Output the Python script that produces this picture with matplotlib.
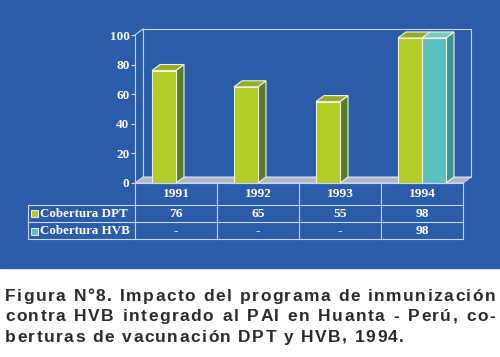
import matplotlib
matplotlib.use('Agg')
import matplotlib.pyplot as plt
from matplotlib.patches import Polygon, Rectangle
from matplotlib.lines import Line2D
from matplotlib import transforms
from matplotlib.font_manager import FontProperties, findfont
from matplotlib.ft2font import FT2Font

# data
years = ['1991', '1992', '1993', '1994']
dpt = [76, 65, 55, 98]
hvb = [None, None, None, 98]
row_labels = ['Cobertura DPT', 'Cobertura HVB']
caption = ['Figura N\u00b08. Impacto del programa de inmunizaci\u00f3n',
           'contra HVB integrado al PAI en Huanta - Per\u00fa, co-',
           'berturas de vacunaci\u00f3n DPT y HVB, 1994.']

BLUE = '#2b5ca9'
LINE = '#c8d8f0'
DPT_C = ('#b4cc28', '#5c7c2c', '#98ac2c')   # front, side, top
HVB_C = ('#5cbfbf', '#3c9494', '#7cc8c4')
SERIF = 'Liberation Serif'

W, H = 500, 357
fig = plt.figure(figsize=(5, 3.57), dpi=100)
fig.patch.set_facecolor('white')

def fx(px):
    return px / W

def fy(py):
    return 1 - py / H

fig.add_artist(Rectangle((0, fy(268)), 1, 1 - fy(268), transform=fig.transFigure,
                         color=BLUE, zorder=0))

ax = fig.add_axes([fx(135), fy(183), fx(463) - fx(135), fy(35) - fy(183)])
ax.set_xlim(0, 4)
ax.set_ylim(0, 100)
ax.patch.set_visible(False)
for s in ['top', 'right', 'bottom']:
    ax.spines[s].set_visible(False)
ax.spines['left'].set_color(LINE)
ax.spines['left'].set_linewidth(0.8)
ax.set_xticks([])
ax.set_yticks(range(0, 101, 20))
ax.tick_params(axis='y', length=3, width=0.8, color=LINE, pad=1,
               labelcolor='white', labelsize=9.5)
for lab in ax.get_yticklabels():
    lab.set_fontfamily(SERIF)
    lab.set_fontweight('bold')

# 3d depth in data units (8 px right, 6 px up)
dx = 8 / (328 / 4)
dy = 6 / (148 / 100)

# floor and walls
ax.add_patch(Polygon([(0, 0), (4, 0), (4 + dx, dy), (dx, dy)], closed=True,
                     fc='#b4b6c6', ec=LINE, lw=0.8, clip_on=False, zorder=1))
ax.add_patch(Rectangle((dx, dy), 4, 100, fill=False, ec=LINE, lw=0.8,
                       clip_on=False, zorder=1))
ax.add_line(Line2D([0, dx], [100, 100 + dy], color=LINE, lw=0.8, clip_on=False))

bw = 24 / 82
off = 17 / 82

def bars3d(xs, vals, cols, z):
    edge = '#eef4d8'
    pairs = [(x, v) for x, v in zip(xs, vals) if v is not None]
    bars = ax.bar([p[0] for p in pairs], [p[1] for p in pairs], bw, align='edge',
                  color=cols[0], ec=edge, lw=0.8, zorder=z + 0.5, clip_on=False)
    for b in bars:
        x, w, h = b.get_x(), b.get_width(), b.get_height()
        ax.add_patch(Polygon([(x + w, 0), (x + w, h), (x + w + dx, h + dy), (x + w + dx, dy)],
                             closed=True, fc=cols[1], ec=edge, lw=0.8, zorder=z, clip_on=False))
        ax.add_patch(Polygon([(x, h), (x + w, h), (x + w + dx, h + dy), (x + dx, h + dy)],
                             closed=True, fc=cols[2], ec=edge, lw=0.8, zorder=z, clip_on=False))

bars3d([i + off for i in range(len(years))], dpt, DPT_C, 3)
bars3d([i + off + bw for i in range(len(years))], hvb, HVB_C, 5)

# data table below the chart
def hline(x0, x1, y):
    fig.add_artist(Line2D([fx(x0), fx(x1)], [fy(y), fy(y)], color=LINE, lw=0.8))

def vline(x, y0, y1):
    fig.add_artist(Line2D([fx(x), fx(x)], [fy(y0), fy(y1)], color=LINE, lw=0.8))

hline(135, 463, 183)
hline(28, 463, 205)
hline(28, 463, 222)
hline(28, 463, 239)
vline(28, 205, 239)
for xc in [135, 217, 299, 381, 463]:
    vline(xc, 183, 239)

tr = transforms.blended_transform_factory(ax.transData, fig.transFigure)
tkw = dict(family=SERIF, weight='bold', color='white', fontsize=9.6,
           ha='center', va='center')
for i, yr in enumerate(years):
    ax.text(i + 0.5, fy(194), yr, transform=tr, **tkw)
    ax.text(i + 0.5, fy(214), '-' if dpt[i] is None else str(dpt[i]), transform=tr, **tkw)
    ax.text(i + 0.5, fy(231), '-' if hvb[i] is None else str(hvb[i]), transform=tr, **tkw)

for lbl, yc, col in zip(row_labels, [214, 231], [DPT_C[0], HVB_C[0]]):
    fig.add_artist(Rectangle((fx(31), fy(yc + 3.5)), fx(7), 7 / H, transform=fig.transFigure,
                             fc=col, ec='white', lw=0.6))
    fig.text(fx(40), fy(yc), lbl, family=SERIF, weight='bold', color='white',
             fontsize=9.4, ha='left', va='center')

# caption, laid out char by char (tracking + justification)
fsize = 12.5
fpath = findfont(FontProperties(family='Liberation Sans', weight='bold'))
ft = FT2Font(fpath)
ft.set_size(fsize, 100)

def adv(c):
    return ft.load_char(ord(c)).linearHoriAdvance / 65536

last = caption[-1]
track = (404 - 5 - sum(adv(c) for c in last)) / (len(last) - 1)
baselines = [301, 321, 342]
for k, (line, base) in enumerate(zip(caption, baselines)):
    natural = sum(adv(c) for c in line) + track * (len(line) - 1)
    nsp = line.count(' ')
    extra = (495 - 5 - natural) / nsp if k < len(caption) - 1 else 0
    x = 5
    for c in line:
        if c != ' ':
            fig.text(fx(x), fy(base), c, family='Liberation Sans', weight='bold',
                     fontsize=fsize, color='#2b2b2b', ha='left', va='baseline')
        x += adv(c) + track + (extra if c == ' ' else 0)

fig.savefig('out.png', dpi=100, facecolor='white')
